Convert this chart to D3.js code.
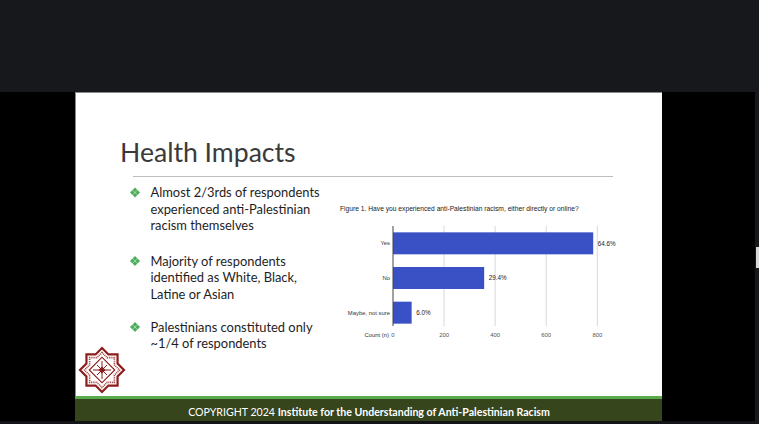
<!DOCTYPE html>
<html>
<head>
<meta charset="utf-8">
<script src="https://cdn.jsdelivr.net/npm/d3@7"></script>
<style>
  html, body { margin: 0; padding: 0; background: #000; overflow: hidden; }
  svg { display: block; }
</style>
</head>
<body>
<div id="slide"></div>
<script>
// chart data
var categories = ["Yes", "No", "Maybe, not sure"];
var counts = [784, 357, 73];
var percents = ["64.6%", "29.4%", "6.0%"];
var xTicks = [0, 200, 400, 600, 800];

var chartTitle = "Figure 1. Have you experienced anti-Palestinian racism, either directly or online?";
var axisTitle = "Count (n)";

// slide text
var slideTitle = "Health Impacts";
var bullets = [
  ["Almost 2/3rds of respondents", "experienced anti-Palestinian", "racism themselves"],
  ["Majority of respondents", "identified as White, Black,", "Latine or Asian"],
  ["Palestinians constituted only", "~1/4 of respondents"]
];
var footerPlain = "COPYRIGHT 2024 ";
var footerBold = "Institute for the Understanding of Anti-Palestinian Racism";

var W = 759, H = 424;
var svg = d3.select("#slide").append("svg")
    .attr("width", W)
    .attr("height", H);

// screen background
svg.append("rect").attr("width", W).attr("height", H).attr("fill", "#000");
svg.append("rect").attr("width", W).attr("height", 92).attr("fill", "#16181c");
svg.append("rect").attr("x", 755).attr("y", 92).attr("width", 4).attr("height", H - 92).attr("fill", "#16181c");
svg.append("rect").attr("x", 756).attr("y", 247).attr("width", 3).attr("height", 21).attr("fill", "#d8d8d8");
svg.append("rect").attr("x", 0).attr("y", 421).attr("width", 755).attr("height", 3).attr("fill", "#121418");

// slide
var sx = 76, sy = 93, sw = 586, sh = 304;
svg.append("rect").attr("x", sx - 1).attr("y", sy - 1).attr("width", sw + 1).attr("height", sh + 1).attr("fill", "#8a8a8a");
svg.append("rect").attr("x", sx).attr("y", sy).attr("width", sw).attr("height", sh).attr("fill", "#fff");

// footer
svg.append("rect").attr("x", sx - 1).attr("y", 396).attr("width", sw + 1).attr("height", 3).attr("fill", "#5aaa4c");
svg.append("rect").attr("x", sx - 1).attr("y", 399).attr("width", sw + 1).attr("height", 22).attr("fill", "#36451c");
var ft = svg.append("text")
    .attr("x", 369).attr("y", 415.5)
    .attr("text-anchor", "middle")
    .attr("fill", "#fff")
    .style("font-family", "Lato, 'Open Sans', sans-serif")
    .style("font-size", "10.6px");
ft.append("tspan").text(footerPlain);
ft.append("tspan").style("font-weight", "bold").text(footerBold);

// title + rule
svg.append("text")
    .attr("x", 120).attr("y", 162)
    .attr("fill", "#3a3a3a")
    .style("font-family", "Lato, 'Open Sans', sans-serif")
    .style("font-size", "26.6px")
    .text(slideTitle);
svg.append("line")
    .attr("x1", 133).attr("x2", 613)
    .attr("y1", 176.5).attr("y2", 176.5)
    .attr("stroke", "#bdbdbd").attr("stroke-width", 1);

// bullets
var bulletTops = [192.5, 261, 327];
var lineGap = 16.5;
bullets.forEach(function(lines, i) {
  var cy = bulletTops[i];
  var g = svg.append("g").attr("transform", "translate(135," + cy + ")");
  [[0, -2.6], [2.6, 0], [0, 2.6], [-2.6, 0]].forEach(function(p) {
    g.append("rect")
      .attr("x", -1.7).attr("y", -1.7).attr("width", 3.4).attr("height", 3.4)
      .attr("transform", "translate(" + p[0] + "," + p[1] + ") rotate(45)")
      .attr("fill", "#4cae5a");
  });
  lines.forEach(function(t, j) {
    svg.append("text")
      .attr("x", 150.5).attr("y", cy + 4.6 + j * lineGap)
      .attr("fill", "#1e1e1e")
      .style("font-family", "Lato, 'Open Sans', sans-serif")
      .style("font-size", "12.9px")
      .text(t);
  });
});

// logo (octagram)
var logo = svg.append("g").attr("transform", "translate(102,370)");
function star(R) {
  var pts = [];
  var r = R * Math.cos(Math.PI / 4) / Math.cos(Math.PI / 8);
  for (var k = 0; k < 16; k++) {
    var a = k * Math.PI / 8 - Math.PI / 2;
    var rr = k % 2 === 0 ? R : r;
    pts.push([rr * Math.cos(a), rr * Math.sin(a)]);
  }
  return d3.line().curve(d3.curveLinearClosed)(pts);
}
logo.append("path").attr("d", star(22)).attr("fill", "#fff").attr("stroke", "#8c1d1d").attr("stroke-width", 2.2);
logo.append("path").attr("d", star(17.5)).attr("fill", "none").attr("stroke", "#a04040").attr("stroke-width", 1.6).attr("stroke-dasharray", "1,0.8");
logo.append("rect").attr("x", -9).attr("y", -9).attr("width", 18).attr("height", 18)
    .attr("transform", "rotate(45)").attr("fill", "#fff").attr("stroke", "#8c1d1d").attr("stroke-width", 1.2);
logo.append("path").attr("d", "M0,-9V9M-9,0H9M-5,-5L5,5M-5,5L5,-5").attr("stroke", "#8c1d1d").attr("stroke-width", 1);
logo.append("rect").attr("x", -2.5).attr("y", -2.5).attr("width", 5).attr("height", 5)
    .attr("transform", "rotate(45)").attr("fill", "#8c1d1d");

// chart
var x = d3.scaleLinear().domain([0, 800]).range([393, 597.3]);
var y = d3.scaleBand().domain(categories).range([226, 330]).paddingInner(0.366).paddingOuter(0.183);
var chart = svg.append("g").style("font-family", "'Liberation Sans', Arial, sans-serif");

chart.append("text")
    .attr("x", 340).attr("y", 211.3)
    .attr("fill", "#1a1a1a")
    .style("font-size", "6.7px")
    .text(chartTitle);

chart.selectAll(".grid")
  .data(xTicks.slice(1))
  .enter().append("line")
    .attr("class", "grid")
    .attr("x1", function(d) { return x(d); })
    .attr("x2", function(d) { return x(d); })
    .attr("y1", 226).attr("y2", 326)
    .attr("stroke", "#d9d9d9").attr("stroke-width", 1);

chart.selectAll(".bar")
  .data(counts)
  .enter().append("rect")
    .attr("class", "bar")
    .attr("x", x(0))
    .attr("y", function(d, i) { return y(categories[i]); })
    .attr("width", function(d) { return x(d) - x(0); })
    .attr("height", y.bandwidth())
    .attr("fill", "#3a51c6");

chart.append("line")
    .attr("x1", x(0)).attr("x2", x(0))
    .attr("y1", 226).attr("y2", 326)
    .attr("stroke", "#444").attr("stroke-width", 1);

chart.selectAll(".val")
  .data(counts)
  .enter().append("text")
    .attr("class", "val")
    .attr("x", function(d) { return x(d) + 4.5; })
    .attr("y", function(d, i) { return y(categories[i]) + y.bandwidth() / 2 + 2.2; })
    .attr("fill", "#1a1a1a")
    .style("font-size", "6.3px")
    .text(function(d, i) { return percents[i]; });

chart.selectAll(".cat")
  .data(categories)
  .enter().append("text")
    .attr("class", "cat")
    .attr("x", 390)
    .attr("y", function(d) { return y(d) + y.bandwidth() / 2 + 2; })
    .attr("text-anchor", "end")
    .attr("fill", "#333")
    .style("font-size", "5.9px")
    .text(function(d) { return d; });

chart.selectAll(".tick")
  .data(xTicks)
  .enter().append("text")
    .attr("class", "tick")
    .attr("x", function(d) { return x(d); })
    .attr("y", 337)
    .attr("text-anchor", "middle")
    .attr("fill", "#555")
    .style("font-size", "5.9px")
    .text(function(d) { return d; });

chart.append("text")
    .attr("x", 389).attr("y", 337)
    .attr("text-anchor", "end")
    .attr("fill", "#333")
    .style("font-size", "5.9px")
    .text(axisTitle);
</script>
</body>
</html>
